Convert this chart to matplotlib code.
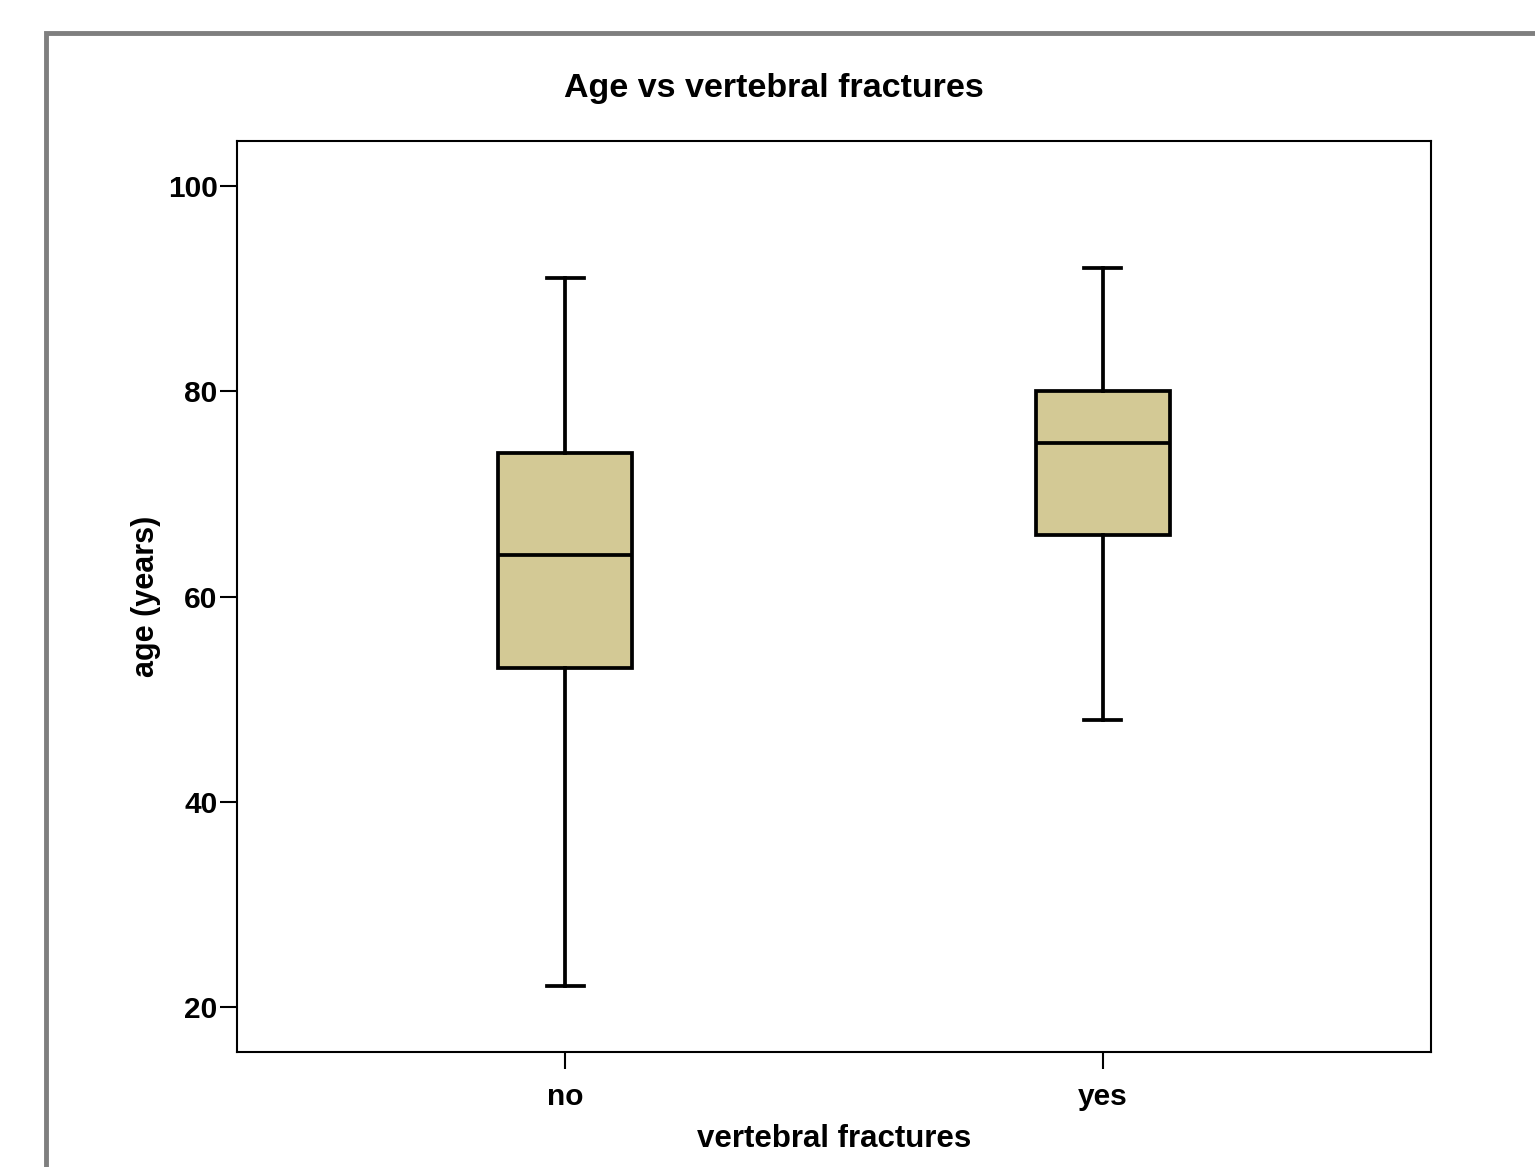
import matplotlib
matplotlib.use("Agg")
import matplotlib.pyplot as plt
from matplotlib.patches import Rectangle

categories = ["no", "yes"]
whisker_low = [22, 48]
q1 = [53, 66]
median = [64, 75]
q3 = [74, 80]
whisker_high = [91, 92]
yticks = [20, 40, 60, 80, 100]

plt.rcParams['font.family'] = ['Liberation Sans', 'DejaVu Sans']

fig = plt.figure(figsize=(15.35, 11.67), dpi=100)
ax = fig.add_axes([237/1535, 1 - 1052/1167, (1431-237)/1535, (1052-141)/1167])

stats = []
for i, c in enumerate(categories):
    stats.append(dict(label=c, whislo=whisker_low[i], q1=q1[i], med=median[i],
                      q3=q3[i], whishi=whisker_high[i], fliers=[]))

lw = 2.7
ax.bxp(stats, positions=[0, 1], widths=0.25, patch_artist=True, showfliers=False,
       boxprops=dict(facecolor='#D3C995', edgecolor='black', linewidth=lw),
       medianprops=dict(color='black', linewidth=lw),
       whiskerprops=dict(color='black', linewidth=lw),
       capprops=dict(color='black', linewidth=lw),
       capwidths=0.07)

ax.set_xlim(-0.611, 1.611)
ax.set_ylim(15.6, 104.4)
ax.set_yticks(yticks)
ax.set_yticklabels([str(v) for v in yticks])
ax.set_xticks([0, 1])
ax.set_xticklabels(categories)
for s in ax.spines.values():
    s.set_linewidth(1.5)
    s.set_color('black')
ax.tick_params(axis='both', direction='out', length=12.5, width=1.5, labelsize=21.5)
ax.tick_params(axis='y', pad=1.5)
ax.tick_params(axis='x', pad=10)
for lab in ax.get_xticklabels() + ax.get_yticklabels():
    lab.set_fontweight('bold')

ax.set_xlabel('vertebral fractures', fontsize=22.5, fontweight='bold', labelpad=9)
ax.set_ylabel('age (years)', fontsize=22, fontweight='bold', labelpad=5)
fig.text(774/1535, 1 - 88/1167, 'Age vs vertebral fractures', ha='center', va='center',
         fontsize=24.5, fontweight='bold')

# outer gray frame
fig.patches.append(Rectangle((46/1535, -0.05), 1.1, 1 - 33/1167 + 0.05,
                             transform=fig.transFigure, fill=False,
                             edgecolor='#7f7f7f', linewidth=3.5))

fig.savefig('out.png', dpi=100)
